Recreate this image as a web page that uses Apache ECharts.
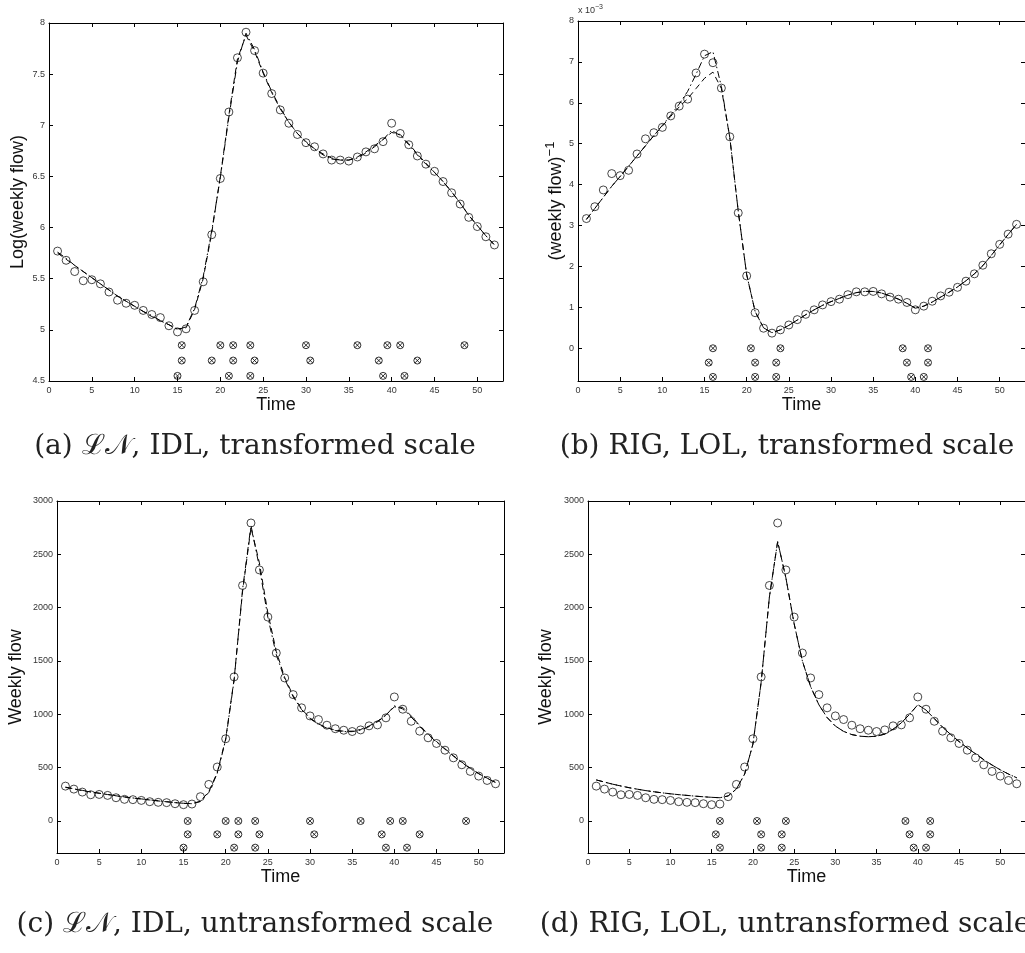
<!DOCTYPE html>
<html>
<head>
<meta charset="utf-8">
<script src="https://cdn.jsdelivr.net/npm/echarts@6/dist/echarts.min.js"></script>
<style>
html,body{margin:0;padding:0;background:#fff;}
#chart{width:1025px;height:953px;}
</style>
</head>
<body>
<div id="chart"></div>
<script>
// ---------------- data ----------------
const weeks = [1,2,3,4,5,6,7,8,9,10,11,12,13,14,15,16,17,18,19,20,21,22,23,24,25,26,
  27,28,29,30,31,32,33,34,35,36,37,38,39,40,41,42,43,44,45,46,47,48,49,50,51,52];
const xTicks = [0,5,10,15,20,25,30,35,40,45,50];

// (a) log scale
const logObs = [5.77,5.68,5.57,5.48,5.49,5.45,5.37,5.29,5.26,5.24,5.19,5.15,5.12,5.04,4.98,5.01,
  5.19,5.47,5.93,6.48,7.13,7.66,7.91,7.73,7.51,7.31,7.15,7.02,6.91,6.83,6.79,6.72,6.66,6.66,6.65,
  6.69,6.74,6.77,6.84,7.02,6.92,6.81,6.70,6.62,6.55,6.45,6.34,6.23,6.10,6.01,5.91,5.83];
const logFitA = [5.75,5.69,5.63,5.57,5.51,5.45,5.39,5.33,5.28,5.23,5.18,5.13,5.09,5.05,5.01,5.02,
  5.20,5.50,5.95,6.50,7.10,7.65,7.88,7.72,7.51,7.32,7.16,7.03,6.92,6.84,6.77,6.72,6.68,6.66,6.66,
  6.69,6.74,6.80,6.86,6.93,6.91,6.82,6.72,6.63,6.54,6.45,6.35,6.24,6.12,6.02,5.92,5.83];
const logFitB = [5.76,5.70,5.63,5.57,5.51,5.45,5.39,5.33,5.28,5.23,5.18,5.14,5.09,5.05,5.00,5.03,
  5.21,5.52,5.97,6.49,7.08,7.62,7.90,7.74,7.52,7.33,7.17,7.03,6.92,6.83,6.77,6.71,6.67,6.66,6.66,
  6.68,6.73,6.79,6.86,6.95,6.90,6.81,6.71,6.62,6.54,6.45,6.35,6.24,6.12,6.02,5.92,5.83];
const logTicks = [4.5,5,5.5,6,6.5,7,7.5,8];
const logRows = [4.85,4.70,4.55];

// (b) inverse scale (x 10^-3)
const invObs = [3.17,3.46,3.87,4.27,4.22,4.35,4.75,5.12,5.27,5.40,5.68,5.92,6.09,6.73,7.19,6.98,
  6.36,5.17,3.31,1.77,0.87,0.49,0.37,0.45,0.57,0.70,0.83,0.94,1.06,1.14,1.20,1.31,1.38,1.38,1.39,
  1.33,1.25,1.20,1.12,0.94,1.03,1.15,1.28,1.37,1.49,1.64,1.82,2.03,2.31,2.54,2.79,3.03];
const invFitA = [3.15,3.42,3.69,3.96,4.20,4.45,4.70,4.95,5.20,5.43,5.67,5.90,6.10,6.35,6.60,6.75,
  6.35,5.15,3.35,1.80,0.90,0.50,0.38,0.45,0.56,0.69,0.82,0.94,1.05,1.14,1.22,1.30,1.36,1.39,1.39,
  1.35,1.28,1.20,1.10,0.98,1.03,1.13,1.25,1.37,1.50,1.65,1.82,2.02,2.27,2.53,2.78,3.03];
const invFitB = [3.15,3.42,3.69,3.96,4.20,4.45,4.70,4.95,5.20,5.45,5.70,5.97,6.28,6.70,7.15,7.25,
  6.40,5.15,3.35,1.80,0.90,0.50,0.38,0.45,0.56,0.69,0.82,0.94,1.05,1.14,1.22,1.30,1.36,1.39,1.39,
  1.35,1.28,1.20,1.10,0.98,1.03,1.13,1.25,1.37,1.50,1.65,1.82,2.02,2.27,2.53,2.78,3.03];
const invTicks = [0,1,2,3,4,5,6,7,8];
const invRows = [0,-0.35,-0.70];

// (c),(d) untransformed
const flowObs = [327,299,271,246,249,240,218,203,200,193,181,175,172,162,153,159,228,343,506,771,
  1351,2208,2794,2354,1912,1575,1341,1185,1061,985,951,898,865,851,839,854,892,901,967,1163,1048,
  935,842,780,727,664,592,527,465,421,380,349];
const flowFitLN_A = [315,300,285,272,260,248,236,225,215,206,197,188,180,172,165,163,185,275,455,770,
  1330,2150,2750,2420,1950,1590,1345,1175,1050,965,910,875,852,842,842,858,890,935,995,1070,1065,
  985,895,815,745,678,612,552,495,445,402,362];
const flowFitLN_B = [318,302,287,273,261,249,237,226,216,207,198,189,181,173,166,162,182,268,445,760,
  1320,2170,2770,2380,1910,1560,1330,1165,1045,960,905,870,848,838,838,852,885,930,990,1080,1050,
  975,888,810,740,673,608,548,492,443,400,360];
const flowFitRIG = [385,365,345,328,312,298,285,274,264,255,247,240,233,227,222,218,235,300,440,720,
  1300,2100,2620,2280,1850,1500,1260,1090,970,890,840,810,795,790,795,815,860,920,1000,1090,1040,
  960,880,810,745,685,630,575,525,480,440,405];
const flowTicks = [0,500,1000,1500,2000,2500,3000];
const flowRows = [0,-125,-250];

// outlier indicator positions (x), three rows each
const idlRow1 = [15.5,20,21.5,23.5,30,36,39.5,41,48.5];
const idlRow2 = [15.5,19,21.5,24,30.5,38.5,43];
const idlRow3 = [15,21,23.5,39,41.5];
const lolRow1 = [16,20.5,24,38.5,41.5];
const lolRow2 = [15.5,21,23.5,39,41.5];
const lolRow3 = [16,21,23.5,39.5,41];

const captions = [
  '(a) \u2112\uD835\uDCA9, IDL, transformed scale',
  '(b) RIG, LOL, transformed scale',
  '(c) \u2112\uD835\uDCA9, IDL, untransformed scale',
  '(d) RIG, LOL, untransformed scale'
];
const yNames = ['Log(weekly flow)', '(weekly flow){s|\u22121}', 'Weekly flow', 'Weekly flow'];

// ---------------- layout / build ----------------
const SANS = 'Liberation Sans, Arial, Helvetica, sans-serif';
const OTIMES = 'path://M10,0A10,10,0,1,1,-10,0A10,10,0,1,1,10,0ZM-7.07,-7.07L7.07,7.07M7.07,-7.07L-7.07,7.07';

const panels = [
  {grid:{left:49, top:23, width:454, height:358}, ymin:4.5, ymax:8, ticks:logTicks, nameGap:22,
   obs:logObs, fitA:logFitA, fitB:logFitB, rowsY:logRows, rowsX:[idlRow1,idlRow2,idlRow3]},
  {grid:{left:578, top:21, width:457, height:360}, ymin:-0.8, ymax:8, ticks:invTicks, nameGap:8,
   obs:invObs, fitA:invFitA, fitB:invFitB, rowsY:invRows, rowsX:[lolRow1,lolRow2,lolRow3]},
  {grid:{left:57, top:501, width:447, height:352}, ymin:-300, ymax:3000, ticks:flowTicks, nameGap:32,
   obs:flowObs, fitA:flowFitLN_A, fitB:flowFitLN_B, rowsY:flowRows, rowsX:[idlRow1,idlRow2,idlRow3]},
  {grid:{left:588, top:501, width:448, height:352}, ymin:-300, ymax:3000, ticks:flowTicks, nameGap:33,
   obs:flowObs, fitA:flowFitRIG, fitB:flowFitRIG, rowsY:flowRows, rowsX:[lolRow1,lolRow2,lolRow3]}
];

const grids = [], xAxes = [], yAxes = [], series = [];
const lineC = {color:'#000', width:1};
const plain = v => String(v);

panels.forEach((p, i) => {
  grids.push(Object.assign({containLabel:false}, p.grid));
  const common = {gridIndex:i, type:'value', splitLine:{show:false},
    axisLine:{show:true, onZero:false, lineStyle:{color:'#000', width:1}}};
  xAxes.push(Object.assign({}, common, {min:0, max:53, position:'bottom',
    axisTick:{inside:true, length:4, customValues:xTicks, lineStyle:{color:'#000'}},
    axisLabel:{customValues:xTicks, formatter:plain, fontSize:9, color:'#333', margin:5, fontFamily:SANS},
    name:'Time', nameLocation:'middle', nameGap:13,
    nameTextStyle:{fontSize:18, color:'#111', fontFamily:SANS}}));
  xAxes.push(Object.assign({}, common, {min:0, max:53, position:'top',
    axisTick:{inside:true, length:4, customValues:xTicks, lineStyle:{color:'#000'}},
    axisLabel:{show:false}}));
  yAxes.push(Object.assign({}, common, {min:p.ymin, max:p.ymax, position:'left',
    axisTick:{inside:true, length:4, customValues:p.ticks, lineStyle:{color:'#000'}},
    axisLabel:{customValues:p.ticks, formatter:plain, fontSize:9, color:'#333', margin:4, fontFamily:SANS},
    name:yNames[i], nameLocation:'middle', nameGap:p.nameGap, nameRotate:90,
    nameTextStyle:{fontSize:18, color:'#111', fontFamily:SANS,
      rich:{s:{fontSize:13, color:'#111', fontFamily:SANS, padding:[0,0,12,0]}}}}));
  yAxes.push(Object.assign({}, common, {min:p.ymin, max:p.ymax, position:'right',
    axisTick:{inside:true, length:4, customValues:p.ticks, lineStyle:{color:'#000'}},
    axisLabel:{show:false}}));

  const xi = 2*i, yi = 2*i;
  series.push({type:'line', xAxisIndex:xi, yAxisIndex:yi, showSymbol:false, silent:true,
    data:weeks.map((w,k)=>[w,p.fitA[k]]),
    lineStyle:Object.assign({type:[6,4]}, lineC), z:2});
  series.push({type:'line', xAxisIndex:xi, yAxisIndex:yi, showSymbol:false, silent:true,
    data:weeks.map((w,k)=>[w,p.fitB[k]]),
    lineStyle:Object.assign({type:[7,3,1.5,3]}, lineC), z:2});
  series.push({type:'scatter', xAxisIndex:xi, yAxisIndex:yi, symbol:'circle', symbolSize:8, silent:true,
    data:weeks.map((w,k)=>[w,p.obs[k]]),
    itemStyle:{color:'rgba(0,0,0,0)', borderColor:'#000', borderWidth:0.9}, z:3});
  const marks = [];
  p.rowsX.forEach((row, r) => row.forEach(x => marks.push([x, p.rowsY[r]])));
  series.push({type:'scatter', xAxisIndex:xi, yAxisIndex:yi, symbol:OTIMES, symbolSize:7, silent:true,
    data:marks, itemStyle:{color:'rgba(0,0,0,0)', borderColor:'#000', borderWidth:1}, z:3});
});

const SERIF = 'DejaVu Serif, Liberation Serif, serif';
const capPos = [[255,447],[787,447],[255,925],[785,925]];
const graphics = captions.map((t, i) => ({type:'text', x:capPos[i][0], y:capPos[i][1],
  style:{text:t, font:'28px ' + SERIF, fill:'#222', textAlign:'center', textVerticalAlign:'middle'}}));
graphics.push({type:'text', x:578, y:4,
  style:{text:'x 10{s|\u22123}', font:'9px ' + SANS, fill:'#333', textAlign:'left', textVerticalAlign:'top',
    rich:{s:{fontSize:7, fill:'#333', padding:[0,0,6,0]}}}});

const chart = echarts.init(document.getElementById('chart'), null, {renderer:'canvas'});
chart.setOption({
  animation:false,
  backgroundColor:'#fff',
  grid:grids, xAxis:xAxes, yAxis:yAxes, series:series, graphic:graphics
});
</script>
</body>
</html>
